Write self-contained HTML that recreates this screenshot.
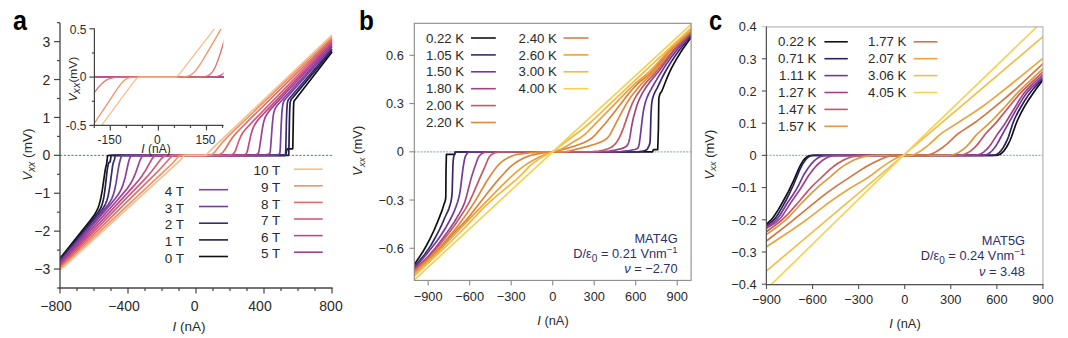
<!DOCTYPE html>
<html><head><meta charset="utf-8"><style>
html,body{margin:0;padding:0;background:#fff;width:1068px;height:338px;overflow:hidden;}
body{position:relative;font-family:"Liberation Sans", sans-serif;}
</style></head><body>
<svg width="1068" height="338" viewBox="0 0 1068 338" style="position:absolute;left:0;top:0">
<g font-family='"Liberation Sans", sans-serif'>
<text transform="translate(13,29.5) scale(0.93,1)" font-size="27" font-weight="bold" fill="#000">a</text>
<text transform="translate(359,29.6) scale(0.9,1)" font-size="27" font-weight="bold" fill="#000">b</text>
<text transform="translate(709,30.2) scale(0.87,1)" font-size="27" font-weight="bold" fill="#000">c</text>
<defs><clipPath id="ca"><rect x="60" y="20" width="275" height="268"/></clipPath><clipPath id="cai"><rect x="94.4" y="29" width="129" height="96.4"/></clipPath><clipPath id="cb"><rect x="414.3" y="23.3" width="276.8" height="257.1"/></clipPath><clipPath id="cc"><rect x="766.4" y="26.9" width="276.5" height="257.7"/></clipPath></defs>
<line x1="60" y1="155.35" x2="332" y2="155.35" stroke="#2b6f8f" stroke-width="0.9" stroke-dasharray="2.2 1.6"/>
<g clip-path="url(#ca)" fill="none" stroke-width="1.7" stroke-linejoin="round">
<path d="M60 258.4L90.6 220.1L94.7 214.4L96 212.1L97.2 209.9L98.3 207.2L99.2 204.5L100.1 201.2L101 197.2L102.4 189.4L105.1 170.6L105.8 167.1L106.7 163.6L107.4 157L107.6 156L108.1 155.5L109.6 155.4L283.7 155.3L285.3 155.2L285.8 154.6L286.7 150L287.1 149.1L288 148.9L292.6 148.9L292.8 148.1L293.5 108L293.7 103.6L293.9 101.9L294.1 101.1L295.3 99.4L332 51.9" stroke="#111111"/>
<path d="M60 259.6L94.9 216.7L98.5 211.8L100.6 208.3L101.5 206.2L102.4 203.5L103.3 199.9L104 196.4L105.1 188.6L107.1 170.6L108.1 164.9L108.7 162.9L109.2 162.4L109.9 162.1L110.1 161.8L110.3 161.1L111 156.4L111.2 155.7L111.5 155.5L112.8 155.4L288.5 155.3L288.7 154.7L288.9 148.8L289.4 122L289.8 106.7L290.3 101.9L290.7 100.3L291.2 99.6L292.3 98.1L332 50.4" stroke="#241c4a"/>
<path d="M60 260.7L98.8 214L102.6 209L104.9 205.3L105.8 203.3L106.7 201L107.6 198L108.3 195.2L109.9 186.1L112.6 165.9L113.3 162.8L114.4 159.8L115.1 156.5L115.3 155.9L115.8 155.4L117.3 155.4L284.9 155.3L285.3 155.3L285.5 154.2L285.8 149.6L286.4 121.1L286.9 108.9L287.3 103.5L287.6 102L288 100.4L288.7 99.2L290.1 97.5L332 48.9" stroke="#3b2a6e"/>
<path d="M60 261.8L103.7 210.1L108.1 204.7L110.5 200.9L111.7 198.8L112.6 196.7L113.5 194.1L114.4 191L116 183.4L118.3 168.9L119.2 163.8L121 157.2L121.4 156L121.9 155.6L122.6 155.4L123.9 155.4L267.6 155.3L272.2 155.2L275.1 155L277.6 154.6L279.4 154L279.6 153.8L279.9 153L280.3 147.7L281.2 124.8L281.9 112.2L282.6 105.8L283 103.5L283.7 101.5L284.6 100L286.7 97.5L332 47" stroke="#6e3f9c"/>
<path d="M60 263L109.9 205.1L115.1 198.8L118.3 194.5L119.6 192.3L121 189.7L122.1 187.2L123.2 184.1L125.3 176.9L128.2 163.5L129.1 160L130.3 157L130.7 156.3L131.4 155.7L132.3 155.4L133.7 155.4L257.7 155.3L262.2 155.2L265.4 154.9L267.9 154.4L269.4 153.8L269.9 152.9L270.1 151.9L270.6 148L272.2 125.6L273.1 116.8L273.5 114L274.2 111.1L274.9 109.2L275.6 107.8L276.9 105.8L279.6 102.7L332 45.4" stroke="#8a3f9e"/>
<path d="M60 264.1L116.9 200.7L123.2 193.4L127.1 188.7L130.3 184.1L133 179.2L134.3 176.2L135.7 172.8L140.2 159.8L141.6 157.1L142.3 156.3L143 155.8L144.1 155.4L145.7 155.4L246.3 155.3L250.6 155.2L253.6 154.9L256.3 154.5L257.7 154L258.1 153.5L258.6 152.6L259.2 149.9L259.9 145.7L262 130.8L263.3 123.5L264.2 120.1L265.1 117.6L266.3 115.2L267.4 113.4L269.7 110.4L273.7 105.9L332 43.5" stroke="#a23f95"/>
<path d="M60 265.3L122.8 198.1L135 184.6L139.1 179.7L142.3 175.4L145.7 170.1L151.6 159.6L153.2 157.5L154.7 156.1L156.3 155.5L158.6 155.4L236.1 155.3L240 155.1L242.9 154.8L245 154.5L245.9 154L246.3 153.4L246.8 152.6L247.5 150.6L250.6 136.1L251.5 132.6L252.4 129.7L253.3 127.4L254.5 125.1L255.6 123.2L257.2 120.9L259.9 117.7L264.9 112.3L332 42" stroke="#bf4787"/>
<path d="M60 266.4L142.5 181.6L147.5 176.2L151.3 171.8L154.1 168.3L160.6 159.5L162.2 157.8L163.8 156.6L164.7 156.1L165.9 155.7L168.3 155.3L219.8 155.3L226.8 155.3L229.3 155.1L231.1 154.7L232.5 154.2L233.6 153.5L234.5 152.4L235.4 150.7L239.1 140.3L240.9 136L242.9 132.5L245.9 128.8L254 120.1L332 40.1" stroke="#d45a76"/>
<path d="M60 267.5L152.9 176.3L161.1 168L169.3 158.8L170.6 157.5L171.7 156.6L173.1 155.8L174.5 155.3L213 155.3L215.5 155.3L217.5 155L219.1 154.6L220.5 154L221.8 153.1L223.2 151.8L224.8 149.7L229.8 141.5L232.3 137.8L235.2 134.2L239.1 130L249.9 119.1L332 38.6" stroke="#e46c68"/>
<path d="M60 268.7L167.7 167.8L172.7 163L177.6 157.5L179 156.3L179.9 155.7L181 155.3L208.5 155.3L209.8 155.1L211.2 154.7L212.3 154.1L213.5 153.3L215.5 151.1L219.6 145.7L222.1 142.7L224.8 139.8L228.6 135.9L332 36.7" stroke="#f09266"/>
<path d="M60 270.2L178.5 161.8L181.3 159.1L183.8 155.9L184.4 155.5L185.6 155.4L205.1 155.3L205.5 155.2L206.2 154.8L209.4 151.5L212.5 148.4L332 35.2" stroke="#f6bf8c"/>
</g>
<line x1="60" y1="22.7" x2="60" y2="288.6" stroke="#444" stroke-width="1.3" />
<line x1="59.4" y1="288" x2="332.6" y2="288" stroke="#444" stroke-width="1.3" />
<line x1="54" y1="269.05" x2="60" y2="269.05" stroke="#444" stroke-width="1.2" />
<text x="50.2" y="274.15" font-size="14" text-anchor="end" fill="#2a2a2a" >&#8722;3</text>
<line x1="54" y1="231.15" x2="60" y2="231.15" stroke="#444" stroke-width="1.2" />
<text x="50.2" y="236.25" font-size="14" text-anchor="end" fill="#2a2a2a" >&#8722;2</text>
<line x1="54" y1="193.25" x2="60" y2="193.25" stroke="#444" stroke-width="1.2" />
<text x="50.2" y="198.35" font-size="14" text-anchor="end" fill="#2a2a2a" >&#8722;1</text>
<line x1="54" y1="155.35" x2="60" y2="155.35" stroke="#444" stroke-width="1.2" />
<text x="50.2" y="160.45" font-size="14" text-anchor="end" fill="#2a2a2a" >0</text>
<line x1="54" y1="117.45" x2="60" y2="117.45" stroke="#444" stroke-width="1.2" />
<text x="50.2" y="122.55" font-size="14" text-anchor="end" fill="#2a2a2a" >1</text>
<line x1="54" y1="79.55" x2="60" y2="79.55" stroke="#444" stroke-width="1.2" />
<text x="50.2" y="84.65" font-size="14" text-anchor="end" fill="#2a2a2a" >2</text>
<line x1="54" y1="41.65" x2="60" y2="41.65" stroke="#444" stroke-width="1.2" />
<text x="50.2" y="46.75" font-size="14" text-anchor="end" fill="#2a2a2a" >3</text>
<line x1="57" y1="288" x2="60" y2="288" stroke="#444" stroke-width="1.2" />
<line x1="57" y1="250.1" x2="60" y2="250.1" stroke="#444" stroke-width="1.2" />
<line x1="57" y1="212.2" x2="60" y2="212.2" stroke="#444" stroke-width="1.2" />
<line x1="57" y1="174.3" x2="60" y2="174.3" stroke="#444" stroke-width="1.2" />
<line x1="57" y1="136.4" x2="60" y2="136.4" stroke="#444" stroke-width="1.2" />
<line x1="57" y1="98.5" x2="60" y2="98.5" stroke="#444" stroke-width="1.2" />
<line x1="57" y1="60.6" x2="60" y2="60.6" stroke="#444" stroke-width="1.2" />
<line x1="57" y1="22.7" x2="60" y2="22.7" stroke="#444" stroke-width="1.2" />
<line x1="60" y1="288" x2="60" y2="293.5" stroke="#444" stroke-width="1.2" />
<line x1="77" y1="288" x2="77" y2="291" stroke="#444" stroke-width="1.2" />
<line x1="94" y1="288" x2="94" y2="291" stroke="#444" stroke-width="1.2" />
<line x1="111" y1="288" x2="111" y2="291" stroke="#444" stroke-width="1.2" />
<line x1="128" y1="288" x2="128" y2="293.5" stroke="#444" stroke-width="1.2" />
<line x1="145" y1="288" x2="145" y2="291" stroke="#444" stroke-width="1.2" />
<line x1="162" y1="288" x2="162" y2="291" stroke="#444" stroke-width="1.2" />
<line x1="179" y1="288" x2="179" y2="291" stroke="#444" stroke-width="1.2" />
<line x1="196" y1="288" x2="196" y2="293.5" stroke="#444" stroke-width="1.2" />
<line x1="213" y1="288" x2="213" y2="291" stroke="#444" stroke-width="1.2" />
<line x1="230" y1="288" x2="230" y2="291" stroke="#444" stroke-width="1.2" />
<line x1="247" y1="288" x2="247" y2="291" stroke="#444" stroke-width="1.2" />
<line x1="264" y1="288" x2="264" y2="293.5" stroke="#444" stroke-width="1.2" />
<line x1="281" y1="288" x2="281" y2="291" stroke="#444" stroke-width="1.2" />
<line x1="298" y1="288" x2="298" y2="291" stroke="#444" stroke-width="1.2" />
<line x1="315" y1="288" x2="315" y2="291" stroke="#444" stroke-width="1.2" />
<line x1="332" y1="288" x2="332" y2="293.5" stroke="#444" stroke-width="1.2" />
<text x="56" y="310.5" font-size="14" text-anchor="middle" fill="#2a2a2a" >&#8722;800</text>
<text x="124" y="310.5" font-size="14" text-anchor="middle" fill="#2a2a2a" >&#8722;400</text>
<text x="194.6" y="310.5" font-size="14" text-anchor="middle" fill="#2a2a2a" >0</text>
<text x="260" y="310.5" font-size="14" text-anchor="middle" fill="#2a2a2a" >400</text>
<text x="331" y="310.5" font-size="14" text-anchor="middle" fill="#2a2a2a" >800</text>
<text x="189" y="331.3" font-size="13.5" text-anchor="middle" fill="#2a2a2a" ><tspan font-style="italic">I</tspan> (nA)</text>
<text transform="translate(31.8,154.6) rotate(-90)" font-size="13.6" text-anchor="middle" fill="#2a2a2a"><tspan font-style="italic">V</tspan><tspan font-style="italic" font-size="10" dy="3">xx</tspan><tspan dy="-3"> (mV)</tspan></text>
<text x="184" y="195.9" font-size="13.5" text-anchor="end" fill="#2a2a2a" >4 T</text>
<line x1="199" y1="189.7" x2="228" y2="189.7" stroke="#8a3f9e" stroke-width="1.6" />
<text x="184" y="212.7" font-size="13.5" text-anchor="end" fill="#2a2a2a" >3 T</text>
<line x1="199" y1="206.5" x2="228" y2="206.5" stroke="#6e3f9c" stroke-width="1.6" />
<text x="184" y="229.4" font-size="13.5" text-anchor="end" fill="#2a2a2a" >2 T</text>
<line x1="199" y1="223.2" x2="228" y2="223.2" stroke="#3b2a6e" stroke-width="1.6" />
<text x="184" y="246.1" font-size="13.5" text-anchor="end" fill="#2a2a2a" >1 T</text>
<line x1="199" y1="239.9" x2="228" y2="239.9" stroke="#241c4a" stroke-width="1.6" />
<text x="184" y="262.7" font-size="13.5" text-anchor="end" fill="#2a2a2a" >0 T</text>
<line x1="199" y1="256.5" x2="228" y2="256.5" stroke="#111111" stroke-width="1.6" />
<text x="280.2" y="175.4" font-size="13.5" text-anchor="end" fill="#2a2a2a" >10 T</text>
<line x1="294" y1="169.2" x2="322.6" y2="169.2" stroke="#f6bf8c" stroke-width="1.6" />
<text x="280.2" y="192" font-size="13.5" text-anchor="end" fill="#2a2a2a" >9 T</text>
<line x1="294" y1="185.8" x2="322.6" y2="185.8" stroke="#f09266" stroke-width="1.6" />
<text x="280.2" y="208.6" font-size="13.5" text-anchor="end" fill="#2a2a2a" >8 T</text>
<line x1="294" y1="202.4" x2="322.6" y2="202.4" stroke="#e46c68" stroke-width="1.6" />
<text x="280.2" y="225.2" font-size="13.5" text-anchor="end" fill="#2a2a2a" >7 T</text>
<line x1="294" y1="219" x2="322.6" y2="219" stroke="#d45a76" stroke-width="1.6" />
<text x="280.2" y="241.8" font-size="13.5" text-anchor="end" fill="#2a2a2a" >6 T</text>
<line x1="294" y1="235.6" x2="322.6" y2="235.6" stroke="#bf4787" stroke-width="1.6" />
<text x="280.2" y="258.4" font-size="13.5" text-anchor="end" fill="#2a2a2a" >5 T</text>
<line x1="294" y1="252.2" x2="322.6" y2="252.2" stroke="#a23f95" stroke-width="1.6" />
<rect x="94.4" y="27" width="130" height="98" fill="#fff"/>
<g clip-path="url(#cai)" fill="none" stroke-width="1.3" stroke-linejoin="round">
<path d="M84.6 77.1L232.2 77.1" stroke="#111111"/>
<path d="M84.6 77.1L232.2 77.1" stroke="#241c4a"/>
<path d="M84.6 77.1L232.2 77.1" stroke="#3b2a6e"/>
<path d="M84.6 77.1L232.2 77.1" stroke="#6e3f9c"/>
<path d="M84.6 77.1L232.2 77.1" stroke="#8a3f9e"/>
<path d="M84.6 77.1L232.2 77.1" stroke="#a23f95"/>
<path d="M84.6 77.1L232.2 77.1" stroke="#bf4787"/>
<path d="M84.6 78.8L87 78.1L89.9 77.6L93.3 77.3L97.9 77.2L205.1 77.1L212.1 77L216.3 76.6L218.9 76L220.9 75.2L222.9 73.8L224.6 71.9L226.4 69.4L228.2 66.1L230.1 61.8L232.2 56.6" stroke="#d45a76"/>
<path d="M84.6 105.4L95.2 91.4L98.4 87.4L101.2 84.4L103.7 82L106.1 80.3L108.5 79L111.3 78.2L113.3 77.7L115.9 77.4L123.3 77.2L190.3 77.1L199.3 77L202.8 76.8L205.4 76.4L207.5 75.8L209.2 74.9L210.5 73.9L211.6 72.8L212.8 71.4L213.7 69.9L215.8 65.8L217.9 60.6L220.1 54L223 44.5L232.2 12.1" stroke="#e46c68"/>
<path d="M84.6 138L111.3 97.9L117.8 88.2L120.4 84.7L122.5 82.2L124.4 80.3L126.2 79L127.8 78.2L129.5 77.7L131.6 77.4L134.3 77.2L175.7 77.1L183.6 76.8L186.5 76.4L188.9 75.8L191 74.8L193 73.3L195 71.4L197 68.8L199.3 65.6L202 61.4L209.2 49.3L232.2 9.9" stroke="#f09266"/>
<path d="M84.6 148.4L132.4 83.6L135 80.3L136.4 78.7L137.2 78L138 77.6L139 77.3L140.1 77.2L173.5 77.1L175.7 76.8L176.5 76.5L177.3 76L178.9 74.4L181.5 71.3L232.2 5.7" stroke="#f6bf8c"/>
</g>
<line x1="94.4" y1="28.4" x2="94.4" y2="125.9" stroke="#444" stroke-width="1.2" />
<line x1="93.8" y1="125.4" x2="223.6" y2="125.4" stroke="#444" stroke-width="1.2" />
<line x1="89.4" y1="28.8" x2="94.4" y2="28.8" stroke="#444" stroke-width="1.2" />
<line x1="89.4" y1="77.1" x2="94.4" y2="77.1" stroke="#444" stroke-width="1.2" />
<line x1="89.4" y1="125.4" x2="94.4" y2="125.4" stroke="#444" stroke-width="1.2" />
<line x1="91.9" y1="52.95" x2="94.4" y2="52.95" stroke="#444" stroke-width="1.2" />
<line x1="91.9" y1="101.25" x2="94.4" y2="101.25" stroke="#444" stroke-width="1.2" />
<line x1="94.26" y1="125.4" x2="94.26" y2="127.9" stroke="#444" stroke-width="1.2" />
<line x1="110.3" y1="125.4" x2="110.3" y2="130.4" stroke="#444" stroke-width="1.2" />
<line x1="126.33" y1="125.4" x2="126.33" y2="127.9" stroke="#444" stroke-width="1.2" />
<line x1="142.37" y1="125.4" x2="142.37" y2="127.9" stroke="#444" stroke-width="1.2" />
<line x1="158.4" y1="125.4" x2="158.4" y2="130.4" stroke="#444" stroke-width="1.2" />
<line x1="174.44" y1="125.4" x2="174.44" y2="127.9" stroke="#444" stroke-width="1.2" />
<line x1="190.47" y1="125.4" x2="190.47" y2="127.9" stroke="#444" stroke-width="1.2" />
<line x1="206.5" y1="125.4" x2="206.5" y2="130.4" stroke="#444" stroke-width="1.2" />
<line x1="222.54" y1="125.4" x2="222.54" y2="127.9" stroke="#444" stroke-width="1.2" />
<text x="86.5" y="34" font-size="12" text-anchor="end" fill="#2a2a2a" >0.5</text>
<text x="86.5" y="81.4" font-size="12" text-anchor="end" fill="#2a2a2a" >0</text>
<text x="86.5" y="130" font-size="12" text-anchor="end" fill="#2a2a2a" >-0.5</text>
<text x="109.6" y="143.8" font-size="12" text-anchor="middle" fill="#2a2a2a" >-150</text>
<text x="157.3" y="143.8" font-size="12" text-anchor="middle" fill="#2a2a2a" >0</text>
<text x="205.5" y="143.8" font-size="12" text-anchor="middle" fill="#2a2a2a" >150</text>
<text x="156" y="152.8" font-size="12" text-anchor="middle" fill="#2a2a2a" ><tspan font-style="italic">I</tspan> (nA)</text>
<text transform="translate(76.9,79.2) rotate(-90)" font-size="10.8" text-anchor="middle" fill="#2a2a2a" textLength="44.8" lengthAdjust="spacingAndGlyphs"><tspan font-style="italic">V</tspan><tspan font-style="italic" font-size="10" dy="3">xx</tspan><tspan dy="-3">(mV)</tspan></text>
<line x1="414.3" y1="151.9" x2="691.1" y2="151.9" stroke="#94b8c8" stroke-width="1.1" stroke-dasharray="2 1.2"/>
<g clip-path="url(#cb)" fill="none" stroke-width="1.7" stroke-linejoin="round">
<path d="M411.6 268.5L420.4 255.5L422.9 251.7L426.2 246L429.8 239.1L434 230.4L437.6 221.9L441.9 210.9L444.4 203.1L445.1 201.4L445.5 199.3L445.8 196.8L446 171.5L446.4 154.4L454.7 154.4L455.4 151.8L652.6 151.8L653.3 149.7L657.7 149.7L658.4 129.3L658.8 98.7L659.6 94.8L660.3 93.2L661.4 91.8L661.9 91L666.7 78.7L669.2 72.9L671.5 68.1L674.2 63.1L677.6 57.2L681.6 50.8L693.8 33.5" stroke="#111111"/>
<path d="M411.7 269.8L424.4 254.7L427.7 250.1L431.2 244.7L435.2 237.8L439.2 230.1L441.7 224.8L445.3 216.5L447.7 211.6L448.9 208.6L449.9 205.6L451 201.5L451.8 196.6L452.2 191.2L452.9 165.4L453.2 160.6L453.5 158.2L453.9 156.1L454.9 153.2L455.6 152L456.1 151.8L635.7 151.8L638.7 151.6L642.9 151L644.8 150.5L646.3 149.9L646.9 149.6L647.4 149L649.1 145.6L649.7 143.9L650.1 141.7L650.3 137.5L651 113.9L651.5 105.6L651.9 101.9L652.3 99.7L653.1 96.7L654.1 94L655.2 91.6L657.5 87.3L661.3 79.4L664.3 73.5L668.1 66.9L672.1 60.4L676.1 54.5L679.8 49.5L693.8 32.7" stroke="#3a2768"/>
<path d="M411.6 271.4L426.5 254.3L432.3 247L437.3 240.4L441.9 233.8L446 227.2L449.2 221.5L452.8 214.3L454.6 210.3L456.1 206.4L457.7 201.8L458.8 197.8L459.6 194.1L460.3 190.1L463 168.1L464.4 159.9L465 157.5L465.5 155.9L466.8 153.9L468 152.5L469 152L470.1 151.8L615.8 151.8L620.5 151.5L629.3 150.5L634.9 149.5L637.1 148.7L637.8 148.1L638.5 146.8L638.9 145.5L639.3 143.4L640.1 137.5L642.6 116.3L643.3 111.7L644.1 107.4L645 103.8L645.9 100.5L647.2 97.2L648.7 93.7L654.4 83.4L658.1 77.1L665 66.3L671.1 57.5L675.1 52.2L678.9 47.7L693.8 31.3" stroke="#70389a"/>
<path d="M411.6 272.4L427.4 257L431.4 252.6L435.5 247.7L442 239.3L449.9 228.4L454.1 222.2L459.3 213.6L461.1 210.4L462.6 207.4L464 204.2L465 201.6L466.6 195.9L470 182.6L471.5 177.1L473.6 170.6L477.3 159.9L478 158.2L478.7 156.8L479.7 155.5L480.8 154.4L482.1 153.4L484.2 152.5L486 152L487.8 151.8L601.5 151.7L609.3 151L615 150.1L621.5 148.6L623.5 147.9L625.2 147.1L626.4 146.2L627.4 145.1L628.1 144L628.8 142.2L629.9 137.4L631.4 127.7L632.4 122.5L633.6 116.9L635.2 111.2L636.8 105.7L638.5 101.2L640.6 96.7L643 92.1L645.9 87.5L649.5 82.4L659.2 70.7L669.6 56.6L673.3 51.8L679.4 44.9L693.8 29.9" stroke="#9c4488"/>
<path d="M411.6 273.5L427.9 257.7L431.9 253.5L435.9 249.1L442 241.7L448.9 232.9L454.1 225.9L459 218.7L465.3 209.1L467.6 205.1L469.6 201.4L473.3 193.4L479.5 178.8L485.3 165.8L488.1 159L489.5 156.6L491.3 154.7L492.8 153.7L495 152.8L497.6 152.1L500 151.8L588.1 151.8L592.7 151.7L598.9 151.1L602.9 150.3L608.2 148.7L609.8 148L611.4 147.2L613.7 145.5L615.5 143.7L617.4 141L619.2 137.9L621.2 133.6L623.7 127.2L628.8 112.4L632.1 103.9L633.4 101.1L634.9 98.3L636.8 95L638.9 91.9L642.1 87.6L646.2 82.4L654.7 73.4L657.8 69.7L668.8 55.7L672.9 50.7L679 44.1L693.8 29.2" stroke="#c65862"/>
<path d="M411.6 274.1L427.5 259.9L434.4 253.2L438.4 248.9L442.9 243.9L454.9 229.5L459.2 224.1L463 218.9L466.9 213.5L470.9 207.6L476.2 199.3L486.7 181.3L489.6 176.8L493.6 171L496.4 167.3L498.7 164.6L501.4 162.1L504.3 159.9L507.6 157.9L511.9 156L515.6 154.7L519.2 154.1L528.9 153L538.4 152.2L548.4 151.8L563.8 151.8L566.3 151.6L569 151.1L587.6 146.4L595.5 144L599.3 142.6L602.5 141.2L605.1 139.7L607.1 138.3L608.9 136.3L610.5 133.8L618.7 117.9L626.4 103.7L629.9 98.3L634.2 92.6L638.1 87.9L642.2 83.3L645 80.4L651.6 74.1L655.2 70.3L659 65.7L667.8 54.3L672.4 49L678.5 42.9L693.8 28.6" stroke="#de8a3c"/>
<path d="M411.6 275.2L428 260.6L435 254L440.5 248.1L453.5 233.3L465.3 221.1L470.4 215.1L488.1 192.3L495.4 183.1L499.6 178.3L505.5 171.7L508.6 168.5L511.1 166.1L514.7 163.3L519.5 160.3L524.3 157.8L528.8 156L532.9 154.8L539.8 153.3L545.6 152.3L552.3 151.7L554.6 151.4L559.9 150.3L566.1 148.6L574.1 146.2L583.6 142.7L587.7 140.8L590.9 138.8L593.2 136.8L596 134L605.5 123.2L612.7 114.2L625.3 97.9L630.7 91.3L634.7 86.8L637.2 84.2L639.6 82L648.3 74.8L652 71.3L656.3 66.6L666.3 54.3L671.1 48.9L677.6 42.5L693.8 27.8" stroke="#e07f35"/>
<path d="M411.6 276.2L428.7 260.7L436.6 253.2L442.2 247.5L461.5 227.1L498.9 188.6L506.8 180.8L514.5 173.7L519.9 169.1L524.1 165.9L527.9 163.3L533.6 160L539.7 156.8L545.2 154.3L549.7 152.7L557.8 150.3L560.7 149.2L563.4 148L566.5 146.2L573.3 141.9L580 138L582.3 136.4L584.4 134.8L586.5 133L588.8 130.7L629.8 88.6L635.8 83L645.9 74.7L650.2 70.8L655.1 65.8L665.7 53.8L670.9 48.4L677.5 42L693.8 27" stroke="#eca03e"/>
<path d="M411.6 278.6L442.7 249.4L455.6 237L464.4 228.1L482.1 209.3L486.7 204.8L491.3 200.6L496.9 195.6L510.4 184.5L516.5 179.3L521.2 174.9L528.9 166.9L532.9 163.4L537.8 159.9L542.6 156.7L546.6 154.5L552.1 151.8L554.6 150.2L580.4 130.8L588.1 124.5L595.5 117.9L614.8 99.3L693.8 25.4" stroke="#f1b948"/>
<path d="M411.6 282.5L552.7 151.8L693.8 21.9" stroke="#f5d152"/>
</g>
<rect x="414.3" y="23.3" width="276.8" height="257.1" fill="none" stroke="#8a8a8a" stroke-width="1.1"/>
<line x1="409.4" y1="55.32" x2="414.3" y2="55.32" stroke="#8a8a8a" stroke-width="1.1" />
<text x="403.8" y="59.92" font-size="12.8" text-anchor="end" fill="#2a2a2a" >0.6</text>
<line x1="409.4" y1="103.56" x2="414.3" y2="103.56" stroke="#8a8a8a" stroke-width="1.1" />
<text x="403.8" y="108.16" font-size="12.8" text-anchor="end" fill="#2a2a2a" >0.3</text>
<line x1="409.4" y1="151.8" x2="414.3" y2="151.8" stroke="#8a8a8a" stroke-width="1.1" />
<text x="403.8" y="156.4" font-size="12.8" text-anchor="end" fill="#2a2a2a" >0</text>
<line x1="409.4" y1="200.04" x2="414.3" y2="200.04" stroke="#8a8a8a" stroke-width="1.1" />
<text x="403.8" y="204.64" font-size="12.8" text-anchor="end" fill="#2a2a2a" >&#8722;0.3</text>
<line x1="409.4" y1="248.28" x2="414.3" y2="248.28" stroke="#8a8a8a" stroke-width="1.1" />
<text x="403.8" y="252.88" font-size="12.8" text-anchor="end" fill="#2a2a2a" >&#8722;0.6</text>
<line x1="428.19" y1="280.4" x2="428.19" y2="285.4" stroke="#8a8a8a" stroke-width="1.1" />
<text x="428.19" y="301" font-size="12.8" text-anchor="middle" fill="#2a2a2a" >&#8722;900</text>
<line x1="469.69" y1="280.4" x2="469.69" y2="285.4" stroke="#8a8a8a" stroke-width="1.1" />
<text x="469.69" y="301" font-size="12.8" text-anchor="middle" fill="#2a2a2a" >&#8722;600</text>
<line x1="511.2" y1="280.4" x2="511.2" y2="285.4" stroke="#8a8a8a" stroke-width="1.1" />
<text x="511.2" y="301" font-size="12.8" text-anchor="middle" fill="#2a2a2a" >&#8722;300</text>
<line x1="552.7" y1="280.4" x2="552.7" y2="285.4" stroke="#8a8a8a" stroke-width="1.1" />
<text x="552.7" y="301" font-size="12.8" text-anchor="middle" fill="#2a2a2a" >0</text>
<line x1="594.21" y1="280.4" x2="594.21" y2="285.4" stroke="#8a8a8a" stroke-width="1.1" />
<text x="594.21" y="301" font-size="12.8" text-anchor="middle" fill="#2a2a2a" >300</text>
<line x1="635.71" y1="280.4" x2="635.71" y2="285.4" stroke="#8a8a8a" stroke-width="1.1" />
<text x="635.71" y="301" font-size="12.8" text-anchor="middle" fill="#2a2a2a" >600</text>
<line x1="677.22" y1="280.4" x2="677.22" y2="285.4" stroke="#8a8a8a" stroke-width="1.1" />
<text x="677.22" y="301" font-size="12.8" text-anchor="middle" fill="#2a2a2a" >900</text>
<text x="553" y="324.6" font-size="12.8" text-anchor="middle" fill="#2a2a2a" ><tspan font-style="italic">I</tspan> (nA)</text>
<text transform="translate(362,150.7) rotate(-90)" font-size="13" text-anchor="middle" fill="#2a2a2a"><tspan font-style="italic">V</tspan><tspan font-style="italic" font-size="9.5" dy="2.5">xx</tspan><tspan dy="-2.5"> (mV)</tspan></text>
<text x="464.2" y="42.6" font-size="13.25" text-anchor="end" fill="#2a2a2a" >0.22 K</text>
<line x1="471" y1="38" x2="495.8" y2="38" stroke="#111111" stroke-width="1.6" />
<text x="464.2" y="59.5" font-size="13.25" text-anchor="end" fill="#2a2a2a" >1.05 K</text>
<line x1="471" y1="54.9" x2="495.8" y2="54.9" stroke="#3a2768" stroke-width="1.6" />
<text x="464.2" y="76.4" font-size="13.25" text-anchor="end" fill="#2a2a2a" >1.50 K</text>
<line x1="471" y1="71.8" x2="495.8" y2="71.8" stroke="#70389a" stroke-width="1.6" />
<text x="464.2" y="93.3" font-size="13.25" text-anchor="end" fill="#2a2a2a" >1.80 K</text>
<line x1="471" y1="88.7" x2="495.8" y2="88.7" stroke="#9c4488" stroke-width="1.6" />
<text x="464.2" y="110.2" font-size="13.25" text-anchor="end" fill="#2a2a2a" >2.00 K</text>
<line x1="471" y1="105.6" x2="495.8" y2="105.6" stroke="#c65862" stroke-width="1.6" />
<text x="464.2" y="127.1" font-size="13.25" text-anchor="end" fill="#2a2a2a" >2.20 K</text>
<line x1="471" y1="122.5" x2="495.8" y2="122.5" stroke="#de8a3c" stroke-width="1.6" />
<text x="556.9" y="42.6" font-size="13.25" text-anchor="end" fill="#2a2a2a" >2.40 K</text>
<line x1="563.6" y1="38" x2="588.4" y2="38" stroke="#e07f35" stroke-width="1.6" />
<text x="556.9" y="59.5" font-size="13.25" text-anchor="end" fill="#2a2a2a" >2.60 K</text>
<line x1="563.6" y1="54.9" x2="588.4" y2="54.9" stroke="#eca03e" stroke-width="1.6" />
<text x="556.9" y="76.4" font-size="13.25" text-anchor="end" fill="#2a2a2a" >3.00 K</text>
<line x1="563.6" y1="71.8" x2="588.4" y2="71.8" stroke="#f1b948" stroke-width="1.6" />
<text x="556.9" y="93.3" font-size="13.25" text-anchor="end" fill="#2a2a2a" >4.00 K</text>
<line x1="563.6" y1="88.7" x2="588.4" y2="88.7" stroke="#f5d152" stroke-width="1.6" />
<text x="677.6" y="242.6" font-size="12.8" text-anchor="end" fill="#2c2f6e" >MAT4G</text>
<text x="677.6" y="258.3" font-size="12.8" text-anchor="end" fill="#2c2f6e" >D/&#949;<tspan font-size="10" dy="4">0</tspan><tspan dy="-4"> = 0.21 Vnm</tspan><tspan font-size="9.5" dy="-5">&#8722;1</tspan></text>
<text x="677.6" y="273.3" font-size="12.8" text-anchor="end" fill="#2c2f6e" ><tspan font-style="italic">&#957;</tspan> = &#8722;2.70</text>
<line x1="766.4" y1="155.4" x2="1042.9" y2="155.4" stroke="#94b8c8" stroke-width="1.1" stroke-dasharray="2 1.2"/>
<g clip-path="url(#cc)" fill="none" stroke-width="1.7" stroke-linejoin="round">
<path d="M760.3 230L770.8 220.2L773.1 217.5L775.5 214L778.3 209.6L782.7 202L788.2 191.8L793.6 180.7L799 168.2L801.3 163.7L803.2 160.6L805.1 158.4L806.9 156.8L808.9 155.8L810.5 155.5L813 155.4L994.9 155.4L997.8 155.2L999 154.8L1000.1 154.3L1002 152.9L1004.2 150.6L1006.3 147.5L1008.3 144L1010 140.5L1011.6 136.5L1015.6 125L1017.6 120L1020.8 113.3L1025 105.6L1029 99.2L1034 91.9L1037.2 87.5L1046.5 75.3" stroke="#111111"/>
<path d="M760.3 230.4L772.6 220.9L775.1 218.4L777.4 215.3L779.6 211.7L782.8 206.1L786.2 200L788.9 194.6L793.2 185.5L799.7 169.8L802.3 164.6L804.5 161.2L806.6 158.6L808.6 156.9L809.6 156.3L810.7 155.8L812.4 155.5L815 155.4L991.8 155.4L994.7 155.2L995.9 154.8L997 154.3L999 152.9L1001.1 150.6L1003.3 147.5L1005.2 144L1007.1 140.2L1008.6 136.5L1012.5 124.3L1014.8 118.5L1016.5 115L1018.6 111L1024.3 101.3L1028.4 95.1L1032.3 90L1035.5 86.4L1046.5 75" stroke="#2e2060"/>
<path d="M760.3 231.2L766.6 226.8L773.6 222.1L775.8 220.2L777.8 218.1L780.6 214.2L787.3 203L793.5 193.9L795.9 190.1L798.4 185.7L803.5 175.3L805.7 171.7L808 168.2L811.3 163.9L814.7 160.4L816.3 159.1L818.2 157.8L819.8 156.9L821.4 156.3L824.4 155.6L827.9 155.4L981.6 155.4L983.6 155.3L985.1 155L986.7 154.6L988 154L990.2 152.5L992.3 150.5L994.6 147.8L996.7 144.7L998.8 141L1003.6 132.1L1015.9 110.1L1021.7 100.4L1025.6 94.5L1028.5 90.8L1031.9 87.2L1041.5 78.3L1046.5 73.5" stroke="#73389a"/>
<path d="M760.3 232.7L767 228.1L775.2 222.8L778 220.6L780.1 218.5L781.8 216.5L783.6 213.9L790.1 203.7L800.5 188.7L808.1 176.3L812.4 170.4L816.6 165.5L818.8 163.5L820.9 161.6L823 160L825 158.7L827.3 157.5L829.3 156.7L831.2 156.1L833.4 155.7L835.4 155.5L837.6 155.4L973.7 155.4L975.9 155.3L977.8 154.9L979.7 154.3L981.5 153.5L983.9 151.9L986.4 149.7L988.8 147.1L991.2 143.9L997.6 133.9L1003.6 125.7L1005.8 122.3L1019.5 99.8L1022.3 95.6L1024.7 92.3L1027.5 89.1L1030.8 85.7L1041 76.4L1046.5 71.3" stroke="#a0428a"/>
<path d="M760.3 236.3L777.8 223.3L781.3 220.5L784.4 217.7L788 214L792.4 209.1L799.3 201.2L807.3 191.6L810.7 187.8L815 183.5L829.4 169.9L833.7 166.3L838.1 163.2L842.8 160.4L847.1 158.5L850.4 157.2L853.3 156.5L857.1 155.8L860.8 155.5L957.7 155.4L960.6 155.2L963.4 154.6L965.7 153.8L968.1 152.6L970.4 151.1L972.5 149.4L974.8 147.3L977.1 144.9L979.4 142.1L983.5 136.5L985.4 134L988 131.1L993.8 125.1L996.6 122.1L1014.5 100L1021.2 92.3L1024.6 88.9L1028.5 85.1L1046.5 68.8" stroke="#c85565"/>
<path d="M760.3 239.2L768.2 233.3L779.3 225.2L785.6 220.1L790.5 215.3L801.9 202.8L812.5 192.1L819.5 185.7L830.5 176.6L837.3 170.7L841.4 167.4L845.9 164.4L850.1 161.9L854.5 159.8L858.8 158.1L863.1 156.8L866.7 156.1L871.4 155.6L876.6 155.4L948 155.4L951.2 155L954.2 154.3L956.8 153.4L959.7 151.8L963.2 149.4L966.7 146.3L969.9 142.9L975.1 136.4L977.7 133.5L980.6 130.8L988 124.3L994 118.5L1003.7 108.2L1015.6 94.9L1021.1 89.2L1027.8 82.8L1046.5 65.5" stroke="#e0983e"/>
<path d="M760.3 245.8L790.1 222.6L796.8 217.2L813 203.8L822 196.7L829.3 191.1L837.8 185.1L859.4 170.9L865.6 167L871.9 163.5L877.1 160.9L881.9 158.7L887 156.8L890.5 155.9L892.6 155.5L895 155.4L922.4 155.4L926.4 155.2L929.3 154.6L932.5 153.5L935.7 151.9L939.2 149.8L943 147.2L946.8 144.1L949.8 141.4L955.2 136.2L958 133.8L962.2 130.9L971.6 124.8L976.8 121.2L986.2 113.8L1001.1 101.7L1010.1 94L1018.2 86.9L1046.5 60.4" stroke="#d4743f"/>
<path d="M760.3 250.9L791.5 230.2L802.3 222.8L810.4 216.9L825.9 204.8L836.4 197.3L843.9 192.2L851.2 187.5L864.1 180L868.4 177.3L871.6 175L881.3 167.6L885.6 164.6L889.7 161.9L895.5 158.6L898.4 157.1L900.4 156.3L901.9 155.8L903.4 155.6L910.1 155.3L912.8 154.8L914.7 154.2L916.6 153.2L918.9 152L921.4 150.4L924.9 147.8L928.7 144.8L932.3 141.5L938.4 135.8L942.4 132.6L946.2 130.1L955.9 124L974.5 112L981.8 107L989.1 101.6L1010.9 84.5L1046.5 55.4" stroke="#e9a542"/>
<path d="M760.3 276.1L903.4 155.4L1046.5 33.7" stroke="#f0bf4e"/>
<path d="M760.3 295.3L903.4 155.4L1046.5 17.5" stroke="#f5d35a"/>
</g>
<rect x="766.4" y="26.9" width="276.5" height="257.7" fill="none" stroke="#b0b0b0" stroke-width="1.1"/>
<line x1="766.4" y1="26.3" x2="766.4" y2="285.2" stroke="#555" stroke-width="1.2" />
<line x1="765.8" y1="284.6" x2="1043.5" y2="284.6" stroke="#555" stroke-width="1.2" />
<line x1="761.8" y1="284.2" x2="766.4" y2="284.2" stroke="#555" stroke-width="1.1" />
<text x="756.6" y="288.9" font-size="12.8" text-anchor="end" fill="#2a2a2a" >&#8722;0.4</text>
<line x1="761.8" y1="252" x2="766.4" y2="252" stroke="#555" stroke-width="1.1" />
<text x="756.6" y="256.7" font-size="12.8" text-anchor="end" fill="#2a2a2a" >&#8722;0.3</text>
<line x1="761.8" y1="219.8" x2="766.4" y2="219.8" stroke="#555" stroke-width="1.1" />
<text x="756.6" y="224.5" font-size="12.8" text-anchor="end" fill="#2a2a2a" >&#8722;0.2</text>
<line x1="761.8" y1="187.6" x2="766.4" y2="187.6" stroke="#555" stroke-width="1.1" />
<text x="756.6" y="192.3" font-size="12.8" text-anchor="end" fill="#2a2a2a" >&#8722;0.1</text>
<line x1="761.8" y1="155.4" x2="766.4" y2="155.4" stroke="#555" stroke-width="1.1" />
<text x="756.6" y="160.1" font-size="12.8" text-anchor="end" fill="#2a2a2a" >0</text>
<line x1="761.8" y1="123.2" x2="766.4" y2="123.2" stroke="#555" stroke-width="1.1" />
<text x="756.6" y="127.9" font-size="12.8" text-anchor="end" fill="#2a2a2a" >0.1</text>
<line x1="761.8" y1="91" x2="766.4" y2="91" stroke="#555" stroke-width="1.1" />
<text x="756.6" y="95.7" font-size="12.8" text-anchor="end" fill="#2a2a2a" >0.2</text>
<line x1="761.8" y1="58.8" x2="766.4" y2="58.8" stroke="#555" stroke-width="1.1" />
<text x="756.6" y="63.5" font-size="12.8" text-anchor="end" fill="#2a2a2a" >0.3</text>
<line x1="761.8" y1="26.6" x2="766.4" y2="26.6" stroke="#c4c4c4" stroke-width="1.1" />
<text x="756.6" y="31.3" font-size="12.8" text-anchor="end" fill="#2a2a2a" >0.4</text>
<line x1="766.5" y1="284.6" x2="766.5" y2="289" stroke="#555" stroke-width="1.1" />
<text x="766.5" y="304.3" font-size="12.8" text-anchor="middle" fill="#2a2a2a" >&#8722;900</text>
<line x1="812.56" y1="284.6" x2="812.56" y2="289" stroke="#555" stroke-width="1.1" />
<text x="812.56" y="304.3" font-size="12.8" text-anchor="middle" fill="#2a2a2a" >&#8722;600</text>
<line x1="858.63" y1="284.6" x2="858.63" y2="289" stroke="#555" stroke-width="1.1" />
<text x="858.63" y="304.3" font-size="12.8" text-anchor="middle" fill="#2a2a2a" >&#8722;300</text>
<line x1="904.7" y1="284.6" x2="904.7" y2="289" stroke="#555" stroke-width="1.1" />
<text x="904.7" y="304.3" font-size="12.8" text-anchor="middle" fill="#2a2a2a" >0</text>
<line x1="950.77" y1="284.6" x2="950.77" y2="289" stroke="#555" stroke-width="1.1" />
<text x="950.77" y="304.3" font-size="12.8" text-anchor="middle" fill="#2a2a2a" >300</text>
<line x1="996.84" y1="284.6" x2="996.84" y2="289" stroke="#555" stroke-width="1.1" />
<text x="996.84" y="304.3" font-size="12.8" text-anchor="middle" fill="#2a2a2a" >600</text>
<line x1="1042.9" y1="284.6" x2="1042.9" y2="289" stroke="#555" stroke-width="1.1" />
<text x="1042.9" y="304.3" font-size="12.8" text-anchor="middle" fill="#2a2a2a" >900</text>
<text x="905" y="327.6" font-size="12.8" text-anchor="middle" fill="#2a2a2a" ><tspan font-style="italic">I</tspan> (nA)</text>
<text transform="translate(713.6,154.6) rotate(-90)" font-size="13" text-anchor="middle" fill="#2a2a2a"><tspan font-style="italic">V</tspan><tspan font-style="italic" font-size="9.5" dy="2.5">xx</tspan><tspan dy="-2.5"> (mV)</tspan></text>
<text x="816.4" y="46.4" font-size="13.25" text-anchor="end" fill="#2a2a2a" >0.22 K</text>
<line x1="824.4" y1="41.8" x2="847.8" y2="41.8" stroke="#111111" stroke-width="1.6" />
<text x="816.4" y="63.3" font-size="13.25" text-anchor="end" fill="#2a2a2a" >0.71 K</text>
<line x1="824.4" y1="58.7" x2="847.8" y2="58.7" stroke="#2e2060" stroke-width="1.6" />
<text x="816.4" y="80.2" font-size="13.25" text-anchor="end" fill="#2a2a2a" >1.11 K</text>
<line x1="824.4" y1="75.6" x2="847.8" y2="75.6" stroke="#73389a" stroke-width="1.6" />
<text x="816.4" y="97.1" font-size="13.25" text-anchor="end" fill="#2a2a2a" >1.27 K</text>
<line x1="824.4" y1="92.5" x2="847.8" y2="92.5" stroke="#a0428a" stroke-width="1.6" />
<text x="816.4" y="114" font-size="13.25" text-anchor="end" fill="#2a2a2a" >1.47 K</text>
<line x1="824.4" y1="109.4" x2="847.8" y2="109.4" stroke="#c85565" stroke-width="1.6" />
<text x="816.4" y="130.9" font-size="13.25" text-anchor="end" fill="#2a2a2a" >1.57 K</text>
<line x1="824.4" y1="126.3" x2="847.8" y2="126.3" stroke="#e0983e" stroke-width="1.6" />
<text x="906.4" y="46.4" font-size="13.25" text-anchor="end" fill="#2a2a2a" >1.77 K</text>
<line x1="913.7" y1="41.8" x2="937.5" y2="41.8" stroke="#d4743f" stroke-width="1.6" />
<text x="906.4" y="63.3" font-size="13.25" text-anchor="end" fill="#2a2a2a" >2.07 K</text>
<line x1="913.7" y1="58.7" x2="937.5" y2="58.7" stroke="#e9a542" stroke-width="1.6" />
<text x="906.4" y="80.2" font-size="13.25" text-anchor="end" fill="#2a2a2a" >3.06 K</text>
<line x1="913.7" y1="75.6" x2="937.5" y2="75.6" stroke="#f0bf4e" stroke-width="1.6" />
<text x="906.4" y="97.1" font-size="13.25" text-anchor="end" fill="#2a2a2a" >4.05 K</text>
<line x1="913.7" y1="92.5" x2="937.5" y2="92.5" stroke="#f5d35a" stroke-width="1.6" />
<text x="1025" y="244.6" font-size="12.8" text-anchor="end" fill="#2c2f6e" >MAT5G</text>
<text x="1025" y="260.4" font-size="12.8" text-anchor="end" fill="#2c2f6e" >D/&#949;<tspan font-size="10" dy="4">0</tspan><tspan dy="-4"> = 0.24 Vnm</tspan><tspan font-size="9.5" dy="-5">&#8722;1</tspan></text>
<text x="1025" y="276.4" font-size="12.8" text-anchor="end" fill="#2c2f6e" ><tspan font-style="italic">&#957;</tspan> = 3.48</text>
</g></svg>
</body></html>
